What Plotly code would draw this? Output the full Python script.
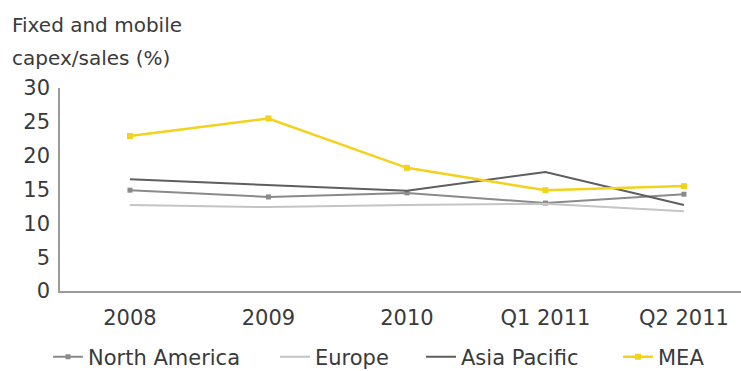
import plotly.graph_objects as go

periods = ["2008", "2009", "2010", "Q1 2011", "Q2 2011"]
north_america = [14.9, 13.9, 14.5, 13.0, 14.3]
europe = [12.7, 12.4, 12.7, 12.9, 11.8]
asia_pacific = [16.5, 15.7, 14.8, 17.6, 12.7]
mea = [22.9, 25.5, 18.2, 14.9, 15.5]
y_ticks = [0, 5, 10, 15, 20, 25, 30]

FONT = "DejaVu Sans"
TXT = "#3a3a3a"
W, H = 741, 371
PLOT_L, PLOT_W = 60, 681

fig = go.Figure()
fig.add_trace(go.Scatter(x=periods, y=north_america, name="North America", mode="lines+markers",
                         line=dict(color="#8a8a8a", width=2),
                         marker=dict(symbol="square", size=5, color="#8a8a8a"), legend="legend"))
fig.add_trace(go.Scatter(x=periods, y=europe, name="Europe", mode="lines",
                         line=dict(color="#c4c4c4", width=2), legend="legend2"))
fig.add_trace(go.Scatter(x=periods, y=asia_pacific, name="Asia Pacific", mode="lines",
                         line=dict(color="#5e5e5e", width=2), legend="legend3"))
fig.add_trace(go.Scatter(x=periods, y=mea, name="MEA", mode="lines+markers",
                         line=dict(color="#f2d21b", width=2.5),
                         marker=dict(symbol="square", size=6, color="#f2d21b"), legend="legend4"))

def leg(px):
    return dict(orientation="h", xref="container", yref="container",
                x=px / W, xanchor="left", y=1 - 357 / H, yanchor="middle", borderwidth=0,
                font=dict(family=FONT, size=21, color=TXT), bgcolor="rgba(0,0,0,0)")

fig.update_layout(
    width=W, height=H,
    margin=dict(l=PLOT_L, r=0, t=87.5, b=80, autoexpand=False),
    paper_bgcolor="white", plot_bgcolor="white",
    font=dict(family=FONT, size=21, color=TXT),
    showlegend=True,
    legend=leg(48), legend2=leg(275), legend3=leg(421), legend4=leg(618),
    xaxis=dict(type="category", range=[-0.505, 4.412], showgrid=False, zeroline=False,
               showline=True, linecolor="#9a9a9a", linewidth=1.5,
               ticks="", tickfont=dict(family=FONT, size=21, color=TXT),
               ticklabelstandoff=7),
    yaxis=dict(range=[0, 30], tickvals=y_ticks, showgrid=False, zeroline=False,
               showline=True, linecolor="#9a9a9a", linewidth=1.5,
               ticks="", tickfont=dict(family=FONT, size=21, color=TXT),
               ticklabelstandoff=4),
)

fig.add_annotation(text="Fixed and mobile", xref="paper", yref="paper",
                   x=-50/PLOT_W, y=(291-24)/203.5, xanchor="left", yanchor="middle",
                   showarrow=False, font=dict(family=FONT, size=20, color=TXT))
fig.add_annotation(text="capex/sales (%)", xref="paper", yref="paper",
                   x=-50/PLOT_W, y=(291-57)/203.5, xanchor="left", yanchor="middle",
                   showarrow=False, font=dict(family=FONT, size=20, color=TXT))

fig.write_html("out.html")
